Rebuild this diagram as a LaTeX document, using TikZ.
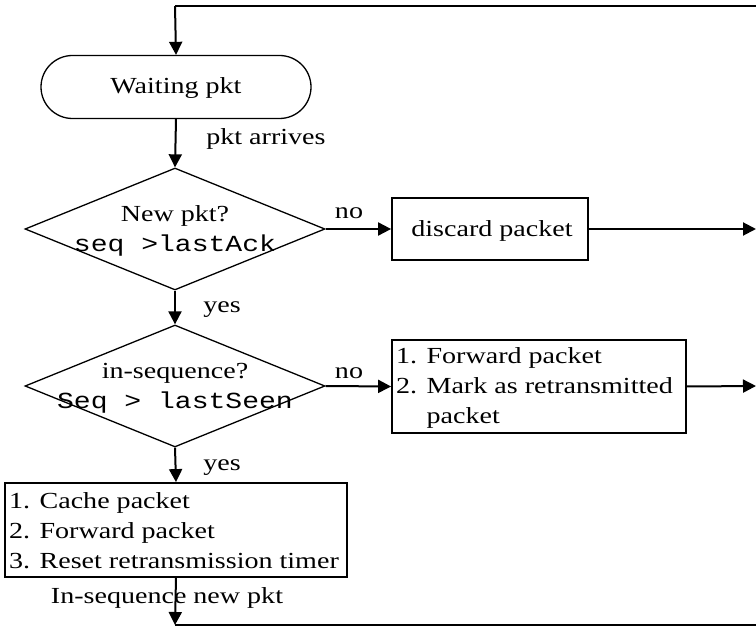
\documentclass[tikz,border=0pt]{standalone}
\usepackage{fontspec}
\setmainfont{Liberation Serif}[FakeStretch=1.22]
\newfontfamily\codefont{Liberation Mono}[FakeStretch=1.22]
\usetikzlibrary{shapes.geometric,shapes.misc,arrows.meta}
\begin{document}
\begin{tikzpicture}[x=1pt,y=-1pt,
  every node/.style={font=\fontsize{23}{30}\selectfont, inner sep=0pt},
  startbox/.style={rounded rectangle, draw, line width=1.3pt,
    minimum width=270pt, minimum height=63pt},
  decision/.style={diamond, draw, line width=1.3pt,
    minimum width=300pt, minimum height=122pt},
  actbox/.style={rectangle, draw, line width=1.8pt},
  flow/.style={line width=2pt, -{Triangle[length=13pt,width=13pt]}},
  plain/.style={line width=2pt},
  lbl/.style={anchor=center}
]
\useasboundingbox (0,0) rectangle (756,628);

% states and decisions
\node[startbox] (wait) at (176,87) {};
\node (waitT) at (176,88) {Waiting pkt};

\node[decision] (d1) at (175,229) {};
\node[align=center] (d1T) at (175,231) {New pkt?\\{\codefont seq >lastAck}};

\node[decision] (d2) at (175,386) {};
\node[align=center] (d2T) at (175,388) {in-sequence?\\{\codefont Seq > lastSeen}};

% action boxes
\node[actbox, minimum width=196pt, minimum height=62pt] (drop) at (490,229) {};
\node (dropT) at (492,231) {discard packet};

\node[actbox, minimum width=294pt, minimum height=93pt] (retx) at (539,386.5) {};
\node[align=left, anchor=west] (retxT) at (396,388)
  {1. Forward packet\\2. Mark as retransmitted\\\hphantom{2. }packet};

\node[actbox, minimum width=342pt, minimum height=94pt] (cache) at (176,530) {};
\node[align=left, anchor=west] (cacheT) at (9,531)
  {1. Cache packet\\2. Forward packet\\3. Reset retransmission timer};

% loose ends of the loop
\coordinate (topR) at (756,6);
\coordinate (topL) at (175,6);
\coordinate (dropR) at (756,229);
\coordinate (retxR) at (756,386);
\coordinate (botL) at (175,625);
\coordinate (botR) at (756,625);

% connectors
\draw[plain] (topR) -- (topL);
\draw[flow] (topL) -- (wait.north);
\draw[flow] (wait.south) -- (d1.north);
\draw[flow] (d1.east) -- (drop.west);
\draw[flow] (drop.east) -- (dropR);
\draw[flow] (d1.south) -- (d2.north);
\draw[flow] (d2.east) -- (retx.west);
\draw[flow] (retx.east) -- (retxR);
\draw[flow] (d2.south) -- (cache.north);
\draw[flow] (cache.south) -- (botL);
\draw[plain] (botL) -- (botR);

% connector labels
\node[lbl] (l1) at (266,139) {pkt arrives};
\node[lbl] (l2) at (349,213) {no};
\node[lbl] (l3) at (222,310) {yes};
\node[lbl] (l4) at (349,373) {no};
\node[lbl] (l5) at (222,468) {yes};
\node[lbl] (l6) at (167,598) {In-sequence new pkt};
\end{tikzpicture}
\end{document}
